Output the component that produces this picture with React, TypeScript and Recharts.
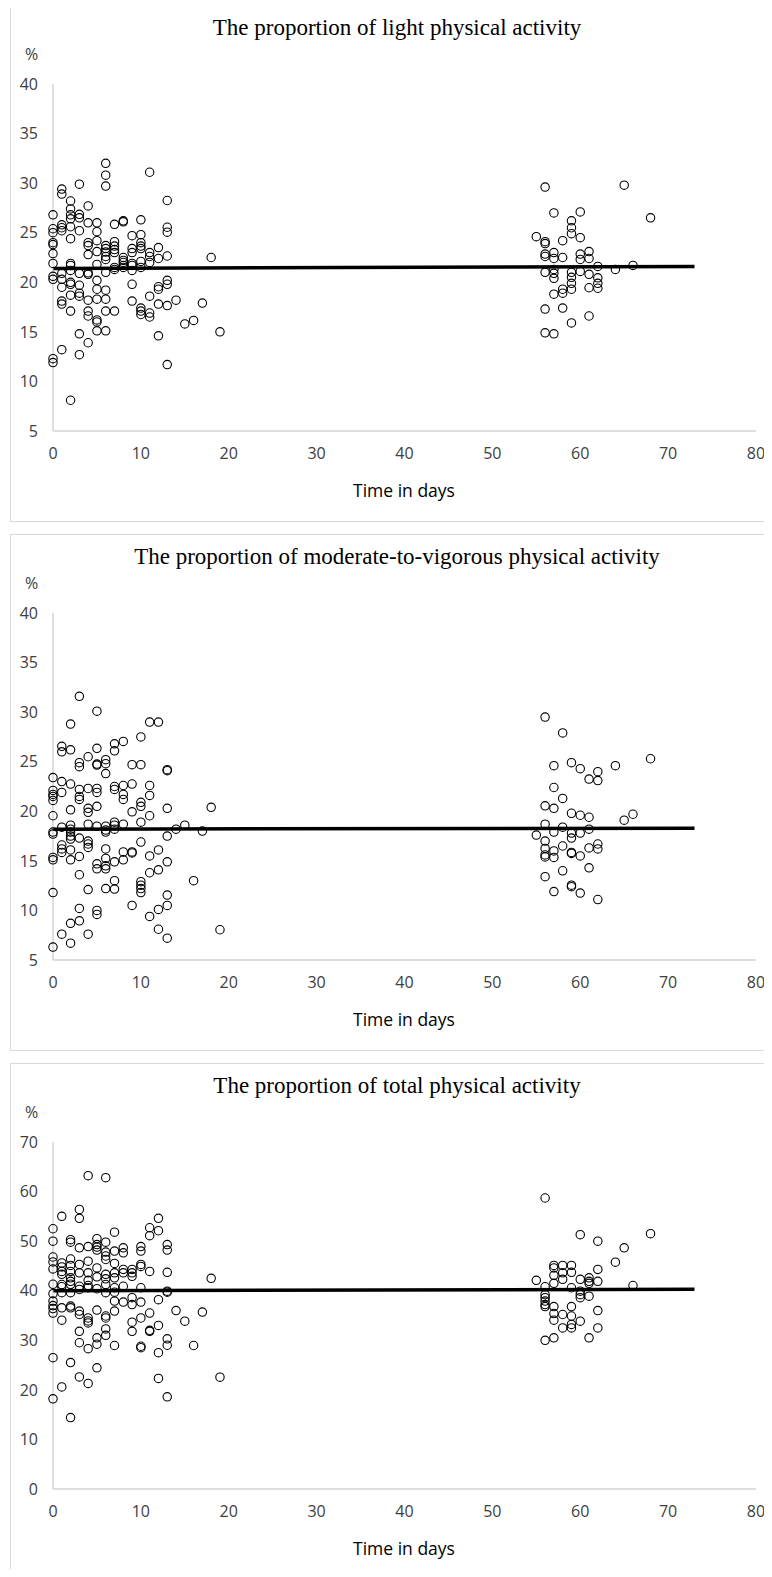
import React from 'react';
import { ScatterChart, Scatter, XAxis, YAxis, ReferenceLine } from 'recharts';

// values read per day: [day, [values...]]
const lightByDay: [number, number[]][] = [
  [0, [26.8, 25.4, 25.0, 24.0, 23.8, 22.9, 21.9, 20.6, 20.3, 12.3, 11.9]],
  [1, [29.4, 28.9, 25.8, 25.5, 25.2, 20.9, 20.3, 19.5, 18.1, 17.8, 13.2]],
  [2, [28.2, 27.4, 26.8, 26.4, 25.6, 24.4, 21.9, 21.7, 21.2, 20.0, 19.8, 18.7, 17.1, 8.1]],
  [3, [29.9, 26.85, 26.5, 25.2, 20.9, 19.7, 18.9, 18.6, 14.8, 12.7]],
  [4, [27.7, 26.0, 24.0, 23.7, 22.8, 20.95, 20.8, 18.2, 17.1, 16.6, 13.9]],
  [5, [26.0, 25.1, 24.2, 23.1, 21.8, 20.2, 19.3, 18.3, 16.2, 16.0, 15.1]],
  [6, [32.0, 30.8, 29.7, 23.7, 23.4, 23.05, 22.6, 22.3, 21.0, 19.2, 18.3, 17.1, 15.1]],
  [7, [25.85, 24.1, 23.65, 23.3, 23.0, 21.5, 21.3, 17.1]],
  [8, [26.2, 26.1, 22.5, 22.2, 22.0, 21.7, 21.5]],
  [9, [24.7, 23.4, 23.0, 21.9, 21.7, 21.2, 19.8, 18.1]],
  [10, [26.3, 24.8, 24.0, 23.65, 23.4, 22.1, 21.5, 17.4, 17.1, 16.75]],
  [11, [31.1, 23.0, 22.6, 22.0, 18.6, 16.9, 16.5]],
  [12, [23.5, 22.4, 19.55, 19.3, 17.8, 14.6]],
  [13, [28.25, 25.55, 25.05, 22.65, 20.2, 19.8, 17.65, 11.7]],
  [14, [18.2]],
  [15, [15.8]],
  [16, [16.15]],
  [17, [17.9]],
  [18, [22.5]],
  [19, [15.0]],
  [55, [24.6]],
  [56, [29.6, 24.1, 23.9, 22.85, 22.6, 21.0, 17.3, 14.9]],
  [57, [27.0, 23.0, 22.4, 21.3, 20.9, 20.4, 18.8, 14.8]],
  [58, [24.2, 22.5, 19.3, 18.9, 17.4]],
  [59, [26.2, 25.5, 24.9, 21.0, 20.5, 19.9, 19.3, 15.9]],
  [60, [27.1, 24.5, 22.85, 22.3, 21.1]],
  [61, [23.1, 22.4, 20.8, 19.45, 16.6]],
  [62, [21.6, 20.45, 19.9, 19.4]],
  [64, [21.3]],
  [65, [29.8]],
  [66, [21.7]],
  [68, [26.5]],
];

const mvpaByDay: [number, number[]][] = [
  [0, [23.4, 22.1, 21.7, 21.5, 21.1, 19.55, 17.9, 17.7, 15.35, 15.1, 11.8, 6.3]],
  [1, [26.55, 26.0, 23.0, 21.9, 18.4, 16.6, 16.2, 15.85, 7.6]],
  [2, [28.8, 26.2, 22.75, 20.15, 18.6, 18.2, 17.9, 17.5, 17.2, 16.1, 15.1, 8.7, 6.7]],
  [3, [31.6, 24.9, 24.5, 22.2, 21.5, 21.2, 17.3, 15.45, 13.6, 10.2, 8.95]],
  [4, [25.5, 22.3, 20.3, 19.9, 18.7, 17.0, 16.7, 16.35, 12.1, 7.6]],
  [5, [30.1, 26.35, 24.76, 24.66, 22.3, 21.9, 20.5, 18.5, 14.7, 14.2, 10.0, 9.6]],
  [6, [25.2, 24.8, 23.8, 18.5, 18.1, 17.9, 16.2, 15.25, 14.5, 14.2, 12.2]],
  [7, [26.8, 26.1, 22.5, 22.2, 18.9, 18.6, 18.2, 14.9, 13.0, 12.15]],
  [8, [27.05, 22.6, 21.7, 21.2, 18.7, 15.9, 15.1]],
  [9, [24.7, 22.75, 19.95, 15.9, 15.8, 10.5]],
  [10, [27.5, 24.7, 20.9, 20.5, 18.9, 16.9, 12.9, 12.55, 12.2, 11.8]],
  [11, [29.0, 22.6, 21.6, 19.55, 15.5, 13.8, 9.4]],
  [12, [29.0, 16.1, 14.1, 10.1, 8.1]],
  [13, [24.2, 24.1, 20.3, 17.5, 14.9, 11.55, 10.5, 7.2]],
  [14, [18.2]],
  [15, [18.6]],
  [16, [13.0]],
  [17, [18.0]],
  [18, [20.4]],
  [19, [8.05]],
  [55, [17.6]],
  [56, [29.5, 20.55, 18.7, 17.0, 16.25, 15.6, 15.4, 13.4]],
  [57, [24.6, 22.4, 20.3, 17.9, 16.0, 15.35, 11.9]],
  [58, [27.9, 21.3, 18.4, 16.5, 14.0]],
  [59, [24.9, 19.8, 17.8, 17.3, 15.85, 15.75, 12.55, 12.4]],
  [60, [24.3, 19.6, 17.8, 15.5, 11.75]],
  [61, [23.25, 19.4, 18.2, 16.3, 14.3]],
  [62, [24.0, 23.1, 16.7, 16.2, 11.1]],
  [64, [24.6]],
  [65, [19.1]],
  [66, [19.7]],
  [68, [25.3]],
];

const totalByDay: [number, number[]][] = [
  [0, [52.5, 50.0, 46.8, 45.8, 44.4, 41.3, 39.4, 37.9, 37.0, 36.4, 35.5, 26.5, 18.2]],
  [1, [55.0, 45.6, 44.8, 43.9, 43.3, 41.25, 40.8, 39.6, 36.55, 34.05, 20.6]],
  [2, [50.3, 49.8, 46.4, 45.1, 43.9, 42.6, 41.9, 41.3, 39.6, 36.9, 36.55, 25.5, 14.4]],
  [3, [56.4, 54.6, 48.65, 45.3, 43.6, 40.9, 40.25, 35.9, 35.2, 31.8, 29.5, 22.6]],
  [4, [63.2, 48.9, 45.96, 43.6, 42.1, 41.05, 40.6, 34.5, 33.9, 33.5, 28.3, 21.3]],
  [5, [50.5, 49.3, 48.8, 48.2, 44.6, 42.8, 40.4, 36.1, 30.5, 29.2, 24.45]],
  [6, [62.8, 49.8, 47.8, 47.0, 46.3, 43.3, 42.4, 41.25, 39.6, 34.9, 34.5, 32.3, 31.0]],
  [7, [51.8, 48.0, 45.5, 43.6, 42.6, 40.6, 39.7, 37.9, 35.9, 28.95]],
  [8, [48.65, 47.65, 44.3, 43.6, 40.9, 37.7]],
  [9, [44.3, 43.6, 42.9, 38.6, 37.2, 33.65, 31.8]],
  [10, [48.9, 48.0, 45.3, 44.9, 40.6, 37.7, 34.5, 28.8, 28.5]],
  [11, [52.7, 51.1, 43.9, 35.5, 32.0, 31.8]],
  [12, [54.6, 52.1, 38.2, 33.0, 27.5, 22.3]],
  [13, [49.3, 48.2, 43.7, 39.9, 39.7, 30.3, 29.0, 18.6]],
  [14, [36.0]],
  [15, [33.85]],
  [16, [28.95]],
  [17, [35.7]],
  [18, [42.5]],
  [19, [22.55]],
  [55, [42.1]],
  [56, [58.7, 40.8, 39.2, 38.6, 37.9, 37.2, 36.8, 30.0]],
  [57, [45.1, 44.6, 43.1, 41.5, 36.8, 35.4, 34.05, 30.5]],
  [58, [45.1, 43.6, 42.3, 35.2, 32.5]],
  [59, [45.1, 43.7, 40.6, 36.8, 34.9, 33.2, 32.5]],
  [60, [51.3, 42.3, 39.9, 39.2, 38.6, 33.85]],
  [61, [42.6, 41.9, 41.5, 38.9, 30.5]],
  [62, [50.0, 44.3, 41.9, 36.0, 32.5]],
  [64, [45.75]],
  [65, [48.65]],
  [66, [41.05]],
  [68, [51.5]],
];

// linear trend endpoints [day, value]
const lightTrend: [number, number][] = [[0, 21.4], [73, 21.6]];
const mvpaTrend: [number, number][] = [[0, 18.2], [73, 18.3]];
const totalTrend: [number, number][] = [[0, 40.0], [73, 40.3]];

const xTicks = [0, 10, 20, 30, 40, 50, 60, 70, 80];
const pctTicks = [5, 10, 15, 20, 25, 30, 35, 40];
const totalTicks = [0, 10, 20, 30, 40, 50, 60, 70];

const titles = [
  'The proportion of light physical activity',
  'The proportion of moderate-to-vigorous physical activity',
  'The proportion of total physical activity',
];

const flatten = (rows: [number, number[]][]) =>
  rows.flatMap(([day, vals]) => vals.map((v) => ({ x: day, y: v })));

const W = 759;
const H = 517;
const tickFont = { fontFamily: 'Open Sans', fontSize: 16, fill: '#404040' };

const OpenCircle = (props: any) => {
  const { cx, cy } = props;
  if (cx == null || cy == null) return null;
  return <circle cx={cx} cy={cy} r={4.2} fill="none" stroke="#000" strokeWidth={1.1} />;
};

interface PanelProps {
  top: number;
  title: string;
  rows: [number, number[]][];
  trend: [number, number][];
  ticks: number[];
}

const Panel = ({ top, title, rows, trend, ticks }: PanelProps) => {
  const data = flatten(rows);
  return (
    <div
      style={{
        position: 'absolute',
        left: 10,
        top,
        width: W,
        height: H,
        border: '1px solid #d9d9d9',
        boxSizing: 'border-box',
        background: '#fff',
      }}
    >
      <div
        style={{
          position: 'absolute',
          left: 386 - 350,
          width: 700,
          top: 9,
          lineHeight: '26px',
          textAlign: 'center',
          fontFamily: 'Liberation Serif',
          fontSize: 23,
          color: '#000',
          whiteSpace: 'nowrap',
        }}
      >
        {title}
      </div>
      <div
        style={{
          position: 'absolute',
          left: 14,
          top: 37,
          lineHeight: '22px',
          fontFamily: 'Open Sans',
          fontSize: 16,
          color: '#404040',
        }}
      >
        %
      </div>
      <div style={{ position: 'absolute', left: -1, top: -1 }}>
        <ScatterChart width={W} height={H} margin={{ top: 79, right: 13, left: 0, bottom: 0 }}>
          <XAxis
            type="number"
            dataKey="x"
            domain={[0, 80]}
            ticks={xTicks}
            interval={0}
            height={91}
            tickLine={false}
            tickSize={0}
            tickMargin={17}
            stroke="#bfbfbf"
            tick={tickFont}
          />
          <YAxis
            type="number"
            dataKey="y"
            domain={[ticks[0], ticks[ticks.length - 1]]}
            ticks={ticks}
            interval={0}
            width={43}
            tickLine={false}
            tickSize={0}
            tickMargin={15}
            stroke="#bfbfbf"
            tick={tickFont}
          />
          <Scatter data={data} shape={OpenCircle} isAnimationActive={false} />
          <ReferenceLine
            segment={trend.map(([x, y]) => ({ x, y }))}
            stroke="#000"
            strokeWidth={3.5}
            ifOverflow="visible"
          />
        </ScatterChart>
      </div>
      <div
        style={{
          position: 'absolute',
          left: 393 - 100,
          width: 200,
          top: 472,
          lineHeight: '24px',
          textAlign: 'center',
          fontFamily: 'Open Sans',
          fontSize: 17.5,
          color: '#000',
        }}
      >
        Time in days
      </div>
    </div>
  );
}

export default function App() {
  return (
    <div style={{ position: 'relative', margin: -8, width: 772, height: 1577, background: '#fff', overflow: 'hidden' }}>
      <Panel top={5} title={titles[0]} rows={lightByDay} trend={lightTrend} ticks={pctTicks} />
      <Panel top={534} title={titles[1]} rows={mvpaByDay} trend={mvpaTrend} ticks={pctTicks} />
      <Panel top={1063} title={titles[2]} rows={totalByDay} trend={totalTrend} ticks={totalTicks} />
    </div>
  );
}
